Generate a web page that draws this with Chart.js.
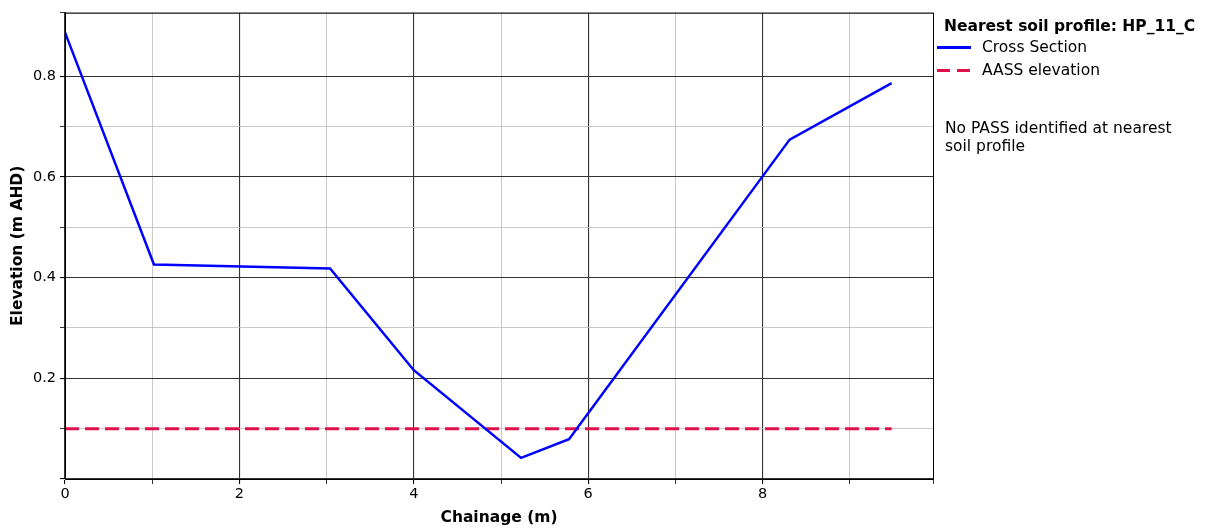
<!DOCTYPE html>
<html>
<head>
<meta charset="utf-8">
<script src="https://cdn.jsdelivr.net/npm/chart.js@4.4.0/dist/chart.umd.min.js"></script>
<style>
  html, body { margin: 0; padding: 0; background: #fff; }
  #wrap { position: relative; width: 1207px; height: 528px; font-family: "DejaVu Sans", sans-serif; color: #000; }
  #legend { position: absolute; left: 944px; top: 17px; font-size: 15.5px; }
  #legend .title { font-weight: bold; margin-bottom: 1px; }
  #legend .row { position: relative; height: 23px; line-height: 23px; padding-left: 38px; }
  #legend .row span.line { position: absolute; left: -7px; top: 10px; width: 34px; }
  #legend .row span.solid { height: 2.5px; background: #0000ff; }
  #legend .row span.dash { height: 3px; width: 33px; background: repeating-linear-gradient(to right, #e0104a 0 13px, transparent 13px 20px); }
  #note { position: absolute; left: 945px; top: 119px; font-size: 15.5px; line-height: 18px; }
</style>
</head>
<body>
<div id="wrap">
  <canvas id="sectionChart" width="1207" height="528"></canvas>
  <div id="legend">
    <div class="title">Nearest soil profile: HP_11_C</div>
    <div class="row"><span class="line solid"></span>Cross Section</div>
    <div class="row"><span class="line dash"></span>AASS elevation</div>
  </div>
  <div id="note">No PASS identified at nearest<br>soil profile</div>
</div>
<script>
// Cross section data
const chainage = [0, 1.02, 3.04, 4.0, 5.23, 5.78, 8.31, 9.48];
const elevation = [0.887, 0.426, 0.418, 0.216, 0.042, 0.079, 0.674, 0.786];
const aassChainage = [0, 9.48];
const aassElevation = [0.1, 0.1];
const xTicks = [0, 2, 4, 6, 8];
const yTicks = [0.2, 0.4, 0.6, 0.8];

function toPoints(xs, ys) {
    return xs.map(function(x, i) { return { x: x, y: ys[i] }; });
}

function isMajor(v, step) {
    return Math.abs(Math.round(v / step) * step - v) < 1e-6;
}

// frame round the plot area, like matplotlib's spines
const framePlugin = {
    id: 'frame',
    afterDraw(chart) {
        const a = chart.chartArea;
        const c = chart.ctx;
        c.save();
        c.strokeStyle = '#000';
        c.lineWidth = 1;
        c.strokeRect(a.left + 0.5, a.top + 0.5, a.right - a.left, a.bottom - a.top);
        c.restore();
    }
};

const ctx = document.getElementById('sectionChart');
new Chart(ctx.getContext('2d'), {
    type: 'line',
    data: {
        datasets: [{
            label: 'Cross Section',
            data: toPoints(chainage, elevation),
            borderColor: '#0000ff',
            borderWidth: 2.5,
            pointRadius: 0,
            fill: false,
            tension: 0,
            order: 1
        }, {
            label: 'AASS elevation',
            data: toPoints(aassChainage, aassElevation),
            borderColor: '#e0104a',
            borderWidth: 3,
            borderDash: [14, 6],
            pointRadius: 0,
            fill: false,
            order: 2
        }]
    },
    options: {
        responsive: false,
        animation: false,
        layout: { padding: { left: 0, right: 274, top: 11, bottom: 0 } },
        plugins: {
            legend: { display: false },
            tooltip: { enabled: false }
        },
        scales: {
            x: {
                type: 'linear',
                min: 0,
                max: 9.954,
                afterFit(scale) { scale.height = 49; },
                ticks: {
                    stepSize: 1,
                    padding: 2,
                    color: '#000',
                    font: { family: 'DejaVu Sans', size: 14.5 },
                    maxRotation: 0,
                    autoSkip: false,
                    callback: function(v) {
                        return xTicks.some(function(t) { return Math.abs(t - v) < 1e-6; }) ? String(v) : '';
                    }
                },
                grid: {
                    color: function(c) { return isMajor(c.tick.value, 2) ? '#333' : '#bbb'; },
                    lineWidth: function(c) { return isMajor(c.tick.value, 2) ? 1.1 : 0.8; },
                    tickColor: '#000',
                    tickLength: 5
                },
                border: { color: '#000', width: 1 },
                title: {
                    display: true,
                    text: 'Chainage (m)',
                    color: '#000',
                    font: { family: 'DejaVu Sans', size: 15.5, weight: 'bold' },
                    padding: { top: 0, bottom: 1 }
                }
            },
            y: {
                type: 'linear',
                min: 0,
                max: 0.926,
                afterFit(scale) { scale.width = 65; },
                ticks: {
                    stepSize: 0.1,
                    padding: 4,
                    color: '#000',
                    font: { family: 'DejaVu Sans', size: 14.5 },
                    autoSkip: false,
                    callback: function(v) {
                        const hit = yTicks.find(function(t) { return Math.abs(t - v) < 1e-6; });
                        return hit !== undefined ? hit.toFixed(1) : '';
                    }
                },
                grid: {
                    color: function(c) { return isMajor(c.tick.value, 0.2) ? '#333' : '#bbb'; },
                    lineWidth: function(c) { return isMajor(c.tick.value, 0.2) ? 1.1 : 0.8; },
                    tickColor: '#000',
                    tickLength: 5
                },
                border: { color: '#000', width: 1 },
                title: {
                    display: true,
                    text: 'Elevation (m AHD)',
                    color: '#000',
                    font: { family: 'DejaVu Sans', size: 15.5, weight: 'bold' },
                    padding: { top: 9, bottom: 6 }
                }
            }
        }
    },
    plugins: [framePlugin]
});
</script>
</body>
</html>
